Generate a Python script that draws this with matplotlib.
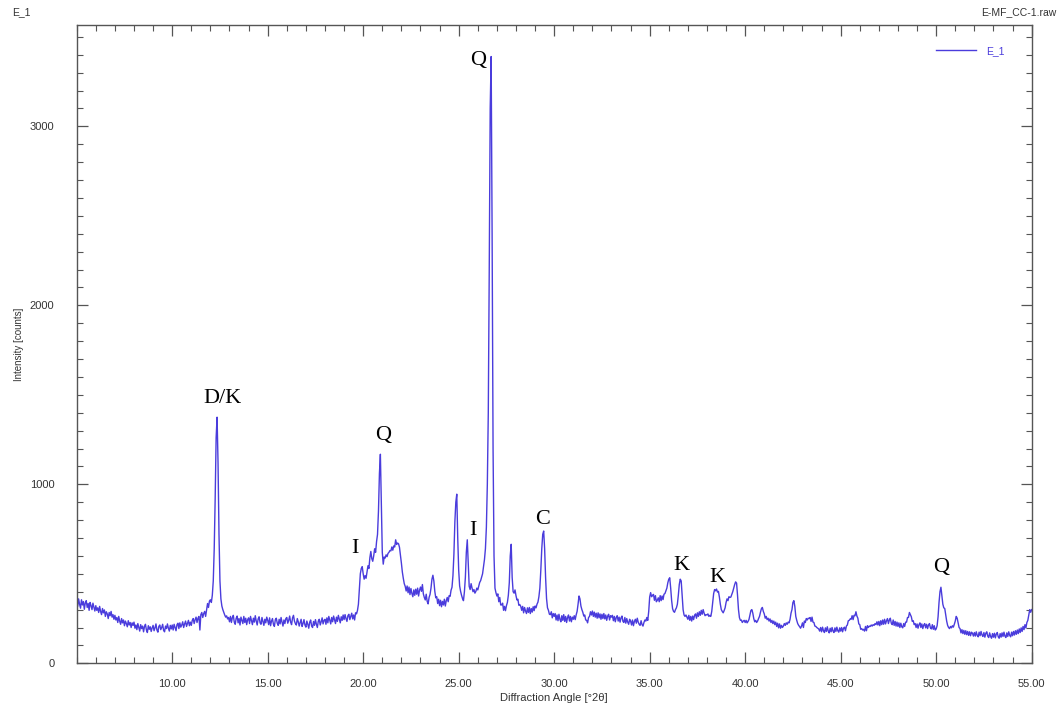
"""Recreate the XRD pattern E_1 (E-MF_CC-1.raw) with mineral phase labels."""

import matplotlib

matplotlib.use("Agg")
import matplotlib.pyplot as plt
import numpy as np
from matplotlib.ticker import FixedLocator, MultipleLocator

OUTPUT_PATH = "out.png"

# step scan: 5.00 to 55.00 °2θ in 0.05° steps, one row per degree
SCAN_START = 5.0
SCAN_STEP = 0.05

COUNTS_05_15 = [
    352, 318, 360, 330, 308, 355, 326, 345, 302, 338, 350, 312, 334, 296, 340, 322, 300, 336, 314, 292,
    322, 296, 310, 284, 318, 290, 272, 306, 282, 298, 262, 288, 276, 250, 284, 266, 290, 258, 272, 246,
    268, 242, 256, 228, 262, 236, 218, 250, 226, 242, 210, 236, 222, 204, 238, 214, 228, 200, 226, 212,
    230, 196, 214, 188, 222, 200, 180, 216, 194, 208, 176, 206, 218, 186, 172, 210, 190, 204, 178, 198,
    212, 182, 198, 220, 186, 174, 206, 214, 188, 200, 218, 184, 176, 208, 194, 220, 196, 180, 212, 192,
    214, 186, 218, 200, 182, 216, 224, 194, 226, 202, 214, 232, 200, 220, 236, 206, 224, 240, 210, 230,
    212, 240, 250, 222, 244, 258, 228, 252, 262, 186, 272, 284, 256, 278, 290, 262, 300, 334, 312, 348,
    355, 340, 380, 460, 640, 920, 1260, 1375, 1120, 720, 460, 360, 320, 300, 285, 270, 258, 265, 248, 256,
    232, 262, 228, 256, 268, 230, 218, 252, 264, 226, 250, 214, 258, 240, 222, 262, 228, 252, 216, 244,
    254, 222, 262, 238, 216, 252, 230, 266, 236, 214, 248, 260, 226, 218, 256, 234, 212, 246, 226, 258,
]

COUNTS_15_25 = [
    240, 216, 254, 210, 236, 250, 218, 206, 244, 252, 224, 212, 246, 220, 256, 230, 208, 242, 222, 250,
    256, 224, 240, 264, 230, 216, 254, 268, 236, 222, 214, 250, 232, 208, 228, 246, 206, 222, 244, 214,
    202, 236, 218, 196, 230, 242, 208, 200, 234, 212, 244, 218, 200, 236, 246, 214, 232, 254, 220, 240,
    246, 218, 254, 226, 262, 240, 220, 256, 232, 264, 244, 222, 258, 234, 268, 246, 226, 260, 240, 270,
    244, 272, 250, 234, 266, 274, 244, 262, 280, 248, 270, 242, 282, 276, 295, 330, 420, 500, 530, 540,
    500, 470, 490, 475, 510, 545, 530, 590, 625, 585, 570, 600, 640, 620, 680, 720, 850, 1060, 1168, 880,
    620, 554, 594, 588, 606, 596, 614, 620, 630, 628, 650, 632, 656, 650, 690, 664, 672, 668, 648, 604,
    560, 510, 475, 445, 430, 404, 432, 394, 426, 384, 418, 390, 372, 410, 380, 414, 386, 420, 376, 408,
    426, 402, 440, 388, 368, 354, 386, 346, 332, 368, 385, 420, 470, 492, 460, 402, 366, 372, 334, 358,
    322, 352, 316, 346, 326, 358, 320, 350, 368, 344, 378, 374, 408, 425, 490, 610, 790, 900, 945, 700,
]

COUNTS_25_35 = [
    520, 432, 402, 380, 362, 350, 400, 480, 620, 690, 560, 430, 412, 445, 420, 400, 412, 392, 402, 420,
    410, 432, 452, 462, 482, 500, 540, 580, 640, 760, 1000, 1400, 2200, 3100, 3390, 2400, 1200, 600, 420, 395,
    376, 388, 344, 368, 326, 326, 336, 296, 318, 294, 322, 340, 380, 450, 600, 665, 480, 400, 392, 410,
    378, 354, 358, 324, 328, 318, 296, 318, 282, 312, 292, 278, 310, 284, 312, 278, 306, 286, 316, 294,
    320, 310, 330, 342, 372, 420, 520, 640, 720, 739, 640, 480, 362, 310, 296, 274, 272, 288, 254, 278,
    262, 278, 242, 270, 238, 274, 246, 232, 266, 240, 272, 234, 262, 228, 256, 270, 236, 262, 232, 258,
    246, 266, 244, 270, 290, 330, 376, 360, 320, 300, 285, 264, 270, 242, 240, 226, 256, 262, 288, 270,
    292, 262, 286, 258, 280, 252, 282, 254, 276, 246, 274, 250, 278, 248, 270, 240, 264, 274, 242, 266,
    258, 268, 238, 262, 232, 256, 266, 236, 258, 230, 254, 264, 234, 228, 256, 224, 250, 230, 218, 246,
    236, 214, 242, 210, 234, 246, 224, 252, 230, 218, 212, 238, 216, 208, 228, 242, 236, 256, 240, 290,
]

COUNTS_35_45 = [
    370, 395, 372, 380, 385, 352, 378, 344, 352, 366, 344, 378, 350, 376, 356, 386, 390, 405, 420, 450,
    470, 478, 420, 350, 305, 290, 285, 300, 310, 330, 380, 440, 470, 460, 380, 300, 270, 262, 270, 258,
    246, 268, 240, 262, 236, 264, 244, 268, 276, 252, 282, 262, 288, 268, 296, 274, 300, 280, 266, 272,
    270, 276, 262, 268, 262, 290, 340, 390, 412, 405, 415, 398, 402, 370, 330, 300, 290, 282, 295, 310,
    340, 360, 350, 372, 368, 370, 385, 400, 420, 440, 455, 448, 380, 300, 255, 240, 242, 228, 236, 240,
    228, 240, 226, 234, 245, 270, 295, 300, 280, 250, 232, 240, 228, 236, 250, 262, 285, 305, 312, 290,
    276, 252, 262, 244, 252, 236, 248, 228, 240, 222, 236, 216, 230, 206, 224, 198, 220, 196, 212, 200,
    208, 222, 212, 226, 218, 230, 226, 246, 280, 300, 340, 350, 318, 262, 240, 222, 212, 205, 196, 208,
    226, 200, 236, 228, 250, 242, 252, 250, 256, 234, 258, 230, 228, 208, 206, 200, 196, 192, 180, 200,
    176, 202, 182, 172, 198, 178, 204, 180, 170, 196, 176, 200, 180, 172, 198, 178, 202, 182, 174, 198,
]

COUNTS_45_55 = [
    180, 200, 176, 196, 202, 182, 208, 214, 238, 240, 248, 246, 266, 244, 268, 266, 288, 264, 252, 220,
    216, 190, 194, 186, 190, 180, 206, 182, 210, 200, 208, 206, 214, 208, 216, 212, 222, 216, 232, 214,
    234, 210, 238, 216, 242, 218, 246, 220, 238, 250, 222, 242, 252, 224, 216, 242, 212, 234, 208, 230,
    206, 226, 200, 224, 204, 198, 222, 206, 230, 230, 256, 256, 284, 272, 260, 234, 238, 216, 222, 200,
    220, 196, 216, 226, 200, 220, 194, 214, 222, 198, 218, 194, 214, 222, 198, 192, 216, 190, 210, 186,
    192, 210, 260, 340, 400, 425, 380, 330, 310, 306, 270, 236, 212, 200, 194, 206, 198, 210, 202, 218,
    236, 262, 252, 226, 200, 194, 170, 188, 166, 184, 162, 182, 160, 178, 156, 176, 154, 174, 168, 152,
    172, 152, 176, 156, 148, 174, 154, 178, 158, 150, 172, 146, 168, 176, 152, 144, 170, 150, 140, 166,
    146, 168, 142, 164, 172, 148, 140, 166, 146, 170, 150, 174, 152, 144, 170, 150, 176, 156, 148, 174,
    154, 178, 158, 182, 162, 186, 166, 192, 172, 198, 178, 206, 188, 216, 198, 228, 240, 270, 300, 285,
    300,
]

# phase labels: text, position (°2θ) and height (counts) of the label
PEAK_LABELS = ["D/K", "I", "Q", "I", "Q", "C", "K", "K", "Q"]
LABEL_ANGLES = [12.61, 19.55, 21.05, 25.75, 26.0, 29.37, 36.64, 38.53, 50.25]
LABEL_COUNTS = [1482, 644, 1275, 744, 3370, 806, 544, 482, 538]

LINE_COLOR = "#4a3cdc"
TEXT_COLOR = "#333333"
AXIS_COLOR = "#555555"
SANS = "Liberation Sans"
SERIF = "Liberation Serif"


def main() -> None:
    intensity = np.concatenate([COUNTS_05_15, COUNTS_15_25, COUNTS_25_35, COUNTS_35_45, COUNTS_45_55])
    two_theta = SCAN_START + SCAN_STEP * np.arange(len(intensity))

    fig = plt.figure(figsize=(10.58, 7.07), dpi=100)
    ax = fig.add_axes([0.0725, 0.0618, 0.9026, 0.9028])

    ax.plot(two_theta, intensity, color=LINE_COLOR, linewidth=1.0, label="E_1")

    ax.set_xlim(5, 55)
    ax.set_ylim(0, 3566)

    ax.xaxis.set_major_locator(FixedLocator([10, 15, 20, 25, 30, 35, 40, 45, 50, 55]))
    ax.xaxis.set_minor_locator(MultipleLocator(1))
    ax.yaxis.set_major_locator(MultipleLocator(1000))
    ax.yaxis.set_minor_locator(MultipleLocator(100))
    ax.xaxis.set_major_formatter(lambda v, pos: f"{v:.2f}")
    ax.yaxis.set_major_formatter(lambda v, pos: f"{v:.0f}")

    ax.tick_params(which="both", direction="in", top=True, right=True, color=AXIS_COLOR,
                   labelcolor=TEXT_COLOR, labelsize=8)
    ax.tick_params(which="major", length=8, width=0.9)
    ax.tick_params(which="minor", length=4, width=0.8)
    ax.tick_params(axis="x", which="major", pad=11)
    ax.tick_params(axis="y", which="major", pad=16)
    for label in ax.get_xticklabels() + ax.get_yticklabels():
        label.set_fontfamily(SANS)
    for spine in ax.spines.values():
        spine.set_color(AXIS_COLOR)
        spine.set_linewidth(1.0)

    ax.set_xlabel("Diffraction Angle [°2θ]", fontsize=8, family=SANS, color=TEXT_COLOR, labelpad=3)
    ax.set_ylabel("Intensity [counts]", fontsize=7, family=SANS, color=TEXT_COLOR, labelpad=4)

    for text, angle, count in zip(PEAK_LABELS, LABEL_ANGLES, LABEL_COUNTS):
        ax.text(angle, count, text, ha="center", va="center", fontsize=16, family=SERIF, color="black")

    legend = ax.legend(loc="upper right", bbox_to_anchor=(0.972, 0.967), frameon=False,
                       handlelength=3.8, handletextpad=1.0, borderpad=0, borderaxespad=0,
                       prop={"family": SANS, "size": 7.5})
    for text in legend.get_texts():
        text.set_color(LINE_COLOR)

    fig.text(12 / 1058, 1 - 12 / 707, "E_1", ha="left", va="center", fontsize=7.5,
             family=SANS, color=TEXT_COLOR)
    fig.text(1056 / 1058, 1 - 12 / 707, "E-MF_CC-1.raw", ha="right", va="center", fontsize=7.5,
             family=SANS, color=TEXT_COLOR)

    fig.savefig(OUTPUT_PATH, dpi=100)
    plt.close(fig)


if __name__ == "__main__":
    main()
